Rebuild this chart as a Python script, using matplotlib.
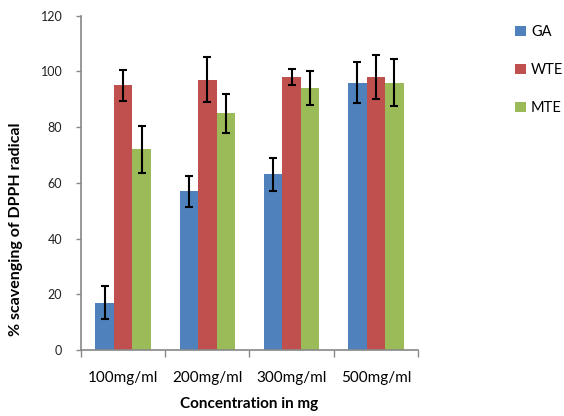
import numpy as np
import matplotlib
matplotlib.use("Agg")
import matplotlib.pyplot as plt

# %% Data

categories = ['100mg/ml', '200mg/ml', '300mg/ml', '500mg/ml']
series = ['GA', 'WTE', 'MTE']
ga = [17, 57, 63, 96]
wte = [95, 97, 98, 98]
mte = [72, 85, 94, 96]
ga_err = [6, 5.5, 6, 7.5]
wte_err = [5.5, 8, 3, 8]
mte_err = [8.5, 7, 6, 8.5]
colors = ['#4F81BD', '#C0504D', '#9BBB59']

# %% Plot

plt.rcParams['font.family'] = ['Lato', 'DejaVu Sans']

fig = plt.figure(figsize=(5.64, 4.16), dpi=100)
ax = fig.add_axes([0.1436, 0.1587, 0.5975, 0.8036])

x = np.arange(len(categories))
w = 0.22
values = [ga, wte, mte]
errors = [ga_err, wte_err, mte_err]
bars = []
for i, (vals, errs, c, name) in enumerate(zip(values, errors, colors, series)):
    b = ax.bar(x + (i - 1) * w, vals, w, color=c, label=name,
               yerr=errs, error_kw=dict(ecolor='black', elinewidth=1.5, capsize=3, capthick=1.5))
    bars.append(b.patches[0])

ax.set_xlim(-0.5, len(categories) - 0.5)
ax.set_ylim(0, 120)
ax.set_yticks(np.arange(0, 121, 20))
ax.set_xticks(x)
ax.set_xticklabels(categories, fontsize=11)
ax.set_xticks(np.arange(-0.5, len(categories), 1), minor=True)
ax.tick_params(axis='x', which='major', length=0, pad=15)
ax.tick_params(axis='x', which='minor', length=5, color='#888888', width=1)
ax.tick_params(axis='y', length=3.5, color='#888888', width=1, labelsize=9, pad=10, labelcolor='#222222')

for s in ['top', 'right']:
    ax.spines[s].set_visible(False)
for s in ['left', 'bottom']:
    ax.spines[s].set_color('#888888')
    ax.spines[s].set_linewidth(1.2)

ax.set_xlabel('Concentration in mg', fontsize=11, fontweight='bold', labelpad=9)
ax.set_ylabel('% scavenging of DPPH radical', fontsize=11.5, fontweight='bold')
ax.yaxis.set_label_coords(-0.172, 0.36)

# legend sits against the right edge like the original
fig.legend(bars, series, loc='upper left',
           bbox_to_anchor=(0.913, 0.94), frameon=False, fontsize=10.5,
           borderpad=0, borderaxespad=0,
           handlelength=0.75, handleheight=0.75, handletextpad=0.35, labelspacing=1.65)

plt.savefig('out.png', dpi=100)
